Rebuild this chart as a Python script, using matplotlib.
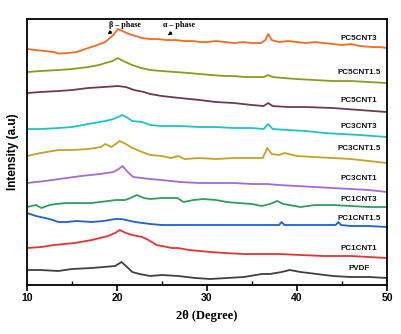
import matplotlib
matplotlib.use("Agg")
import matplotlib.pyplot as plt
from matplotlib.ticker import MultipleLocator

# ---- data (2theta in degrees, stacked intensity in a.u.) ----
labels = ["PC5CNT3", "PC5CNT1.5", "PC5CNT1", "PC3CNT3", "PC3CNT1.5",
          "PC3CNT1", "PC1CNT3", "PC1CNT1.5", "PC1CNT1", "PVDF"]
colors = ["#F26B21", "#8C9A1E", "#6E3B4E", "#1CC4C4", "#C9A021",
          "#A46BD8", "#2E9E5E", "#1F5FCF", "#E53333", "#404040"]

pc5cnt3_x = [10, 11, 12, 13, 13.5, 14.5, 15.5, 16.8, 17.5, 18.7, 19.2, 19.6, 20.1, 20.6, 21.1, 21.7, 22.8, 23.7,
             24.5, 25.5, 26.5, 27.5, 28.5, 29.2, 30, 31, 32, 33, 34, 35, 36, 36.5, 36.8, 37.2, 38, 39, 40, 41,
             42, 43, 44, 45, 46, 47, 48.4, 49.2, 50]
pc5cnt3_y = [251, 250, 249, 248, 246.5, 247, 248, 252, 254, 258, 262, 265, 271, 269, 267, 265, 262, 261,
             261, 260, 260, 259, 259, 258, 258, 259, 258, 257, 258, 257, 257, 260, 266, 260, 258, 259, 258, 257,
             258, 257, 256, 255, 256, 254, 253, 253, 252]

pc5cnt15_x = [10, 11.5, 13.5, 15, 16.8, 18, 18.7, 19.5, 20.1, 20.7, 21.7, 22.7, 23.7, 25, 26.5, 28, 29.2, 30.5,
              32, 33, 34.2, 35.5, 36.3, 36.8, 37.3, 38.5, 40, 42, 44, 46, 48, 50]
pc5cnt15_y = [228, 229, 230, 231, 233, 235, 237, 239, 242, 239, 235, 232, 230, 229, 228, 227, 226, 225,
              224, 224, 223, 223, 223, 225, 223, 222, 221, 220, 219, 219, 218, 217]

pc5cnt1_x = [10, 11.5, 13.5, 15, 16.8, 18.5, 20.1, 21, 21.9, 23, 23.7, 25, 27, 29.2, 31, 33, 35, 36.3, 36.8,
             37.3, 39, 41, 44, 47, 50]
pc5cnt1_y = [207, 208, 209, 210, 212, 213, 214, 213, 210, 208, 206, 204, 202, 200, 198, 197, 195, 194, 197,
             194, 193, 193, 192, 190, 188]

pc3cnt3_x = [10, 11.5, 13.5, 15, 16.8, 18.7, 19.6, 20.6, 21.2, 21.7, 22.8, 23.7, 25, 27, 29.2, 31, 33, 35,
             36.3, 36.8, 37.3, 39, 41, 43, 45, 47, 50]
pc3cnt3_y = [171, 171, 172, 173, 176, 179, 181, 185, 182, 179, 178, 175, 174, 174, 173, 173, 172, 172,
             171, 176, 171, 170, 169, 167, 166, 165, 163]

pc3cnt15_x = [10, 11.5, 13.5, 15, 16.8, 18.2, 18.7, 19.4, 20.3, 21, 21.7, 22.8, 23.7, 25, 26, 26.8, 27.5,
              29.2, 31, 33, 35, 36.2, 36.7, 37.2, 38, 38.6, 40, 42, 44, 46, 48, 50]
pc3cnt15_y = [144, 147, 150, 150, 151, 153, 156, 153, 159, 156, 152, 148, 145, 144, 142, 144, 141,
              142, 141, 142, 142, 142, 152, 146, 145, 147, 144, 143, 142, 141, 139, 137]

pc3cnt1_x = [10, 12, 14.4, 16, 18.1, 19.6, 20.2, 20.6, 21.2, 21.8, 23.7, 25, 27, 29.2, 31, 33, 35, 36.7,
             38, 40, 42, 44, 46, 48, 50]
pc3cnt1_y = [117, 119, 122, 124, 126, 128, 131, 134, 128, 123, 121, 120, 118, 117, 117, 117, 116, 116,
             115, 114, 113, 112, 111, 110, 108]

pc1cnt3_x = [10, 11, 11.6, 12.5, 13.2, 14.4, 15.5, 17.2, 18.1, 19.9, 20.9, 21.5, 22.2, 23, 23.7, 25, 26.7,
             27.4, 28.5, 29.6, 31, 32.2, 33.5, 35, 36.1, 37, 37.8, 38.5, 40.4, 42, 44, 46, 48, 50]
pc1cnt3_y = [93, 95, 92, 95, 96, 97, 97, 97, 98, 100, 100, 102, 105, 102, 101, 102, 102,
             98, 100, 101, 100, 98, 97, 96, 94, 96, 99, 96, 93, 95, 95, 94, 93, 93]

pc1cnt15_x = [10, 11, 12.5, 13.5, 14.4, 15.5, 17.2, 18.5, 19.8, 20.5, 22, 23.7, 25, 27, 29, 31, 33, 35, 37,
              38, 38.3, 38.6, 40, 42, 44.3, 44.6, 44.9, 46, 48, 50]
pc1cnt15_y = [87, 84, 81, 78, 78, 79, 78, 79, 81, 81, 78, 76, 75, 75, 75, 75, 75, 75, 75,
              75, 78, 75, 75, 75, 75, 78, 75, 74, 74, 73]

pc1cnt1_x = [10, 11.6, 13, 15.3, 17.2, 19, 19.8, 20.3, 21, 21.7, 22.8, 23.5, 24.4, 25, 26.1, 26.8, 28, 30.4,
             32, 34.1, 36.9, 38, 40.4, 43, 46, 48, 50]
pc1cnt1_y = [52, 53, 55, 57, 60, 64, 67, 70, 67, 65, 63, 60, 55, 54, 52, 52, 50, 48,
             47, 46, 46, 46, 45, 44, 44, 43, 42]

pvdf_x = [10, 11.5, 13.5, 15, 17.2, 18.5, 19.8, 20.5, 21, 21.7, 22.5, 23.7, 25, 26.8, 28.7, 30.4, 32.2, 34.1,
          36.1, 37, 38.3, 39.2, 40.4, 42.2, 44, 45.9, 48, 50]
pvdf_y = [30, 30, 29, 31, 32, 33, 34, 38, 34, 28, 26, 24, 25, 24, 22, 21, 22, 23,
          26, 26, 28, 30, 28, 26, 24, 23, 23, 22]

series_x = [pc5cnt3_x, pc5cnt15_x, pc5cnt1_x, pc3cnt3_x, pc3cnt15_x,
            pc3cnt1_x, pc1cnt3_x, pc1cnt15_x, pc1cnt1_x, pvdf_x]
series_y = [pc5cnt3_y, pc5cnt15_y, pc5cnt1_y, pc3cnt3_y, pc3cnt15_y,
            pc3cnt1_y, pc1cnt3_y, pc1cnt15_y, pc1cnt1_y, pvdf_y]
label_y = [262, 228, 200, 174, 152, 122, 101, 82, 52, 32]

x_ticks = [10, 20, 30, 40, 50]

# ---- figure ----
fig = plt.figure(figsize=(4.01, 3.34), dpi=100)
ax = fig.add_axes([0.0673, 0.1467, 0.8977, 0.7963])

for xs, ys, c in zip(series_x, series_y, colors):
    ax.plot(xs, ys, color=c, lw=1.3)

for lab, ly in zip(labels, label_y):
    ax.text(46.9, ly, lab, ha="center", va="center", fontsize=5.8,
            fontweight="bold", family="Liberation Sans", color="#111111")

ax.set_xlim(10, 50)
ax.set_ylim(15, 281)
ax.set_xticks(x_ticks)
ax.set_xticklabels([str(t) for t in x_ticks], fontsize=7.5, fontweight="bold",
                   family="Liberation Sans")
ax.xaxis.set_minor_locator(MultipleLocator(5))
ax.tick_params(axis="x", which="major", direction="out", length=4, width=1.2, pad=2)
ax.tick_params(axis="x", which="minor", direction="in", length=3, width=1.0)
ax.set_yticks([])
for s in ax.spines.values():
    s.set_linewidth(1.3)

ax.set_xlabel("2θ (Degree)", fontsize=9, fontweight="bold", family="Liberation Serif", labelpad=5)
ax.set_ylabel("Intensity (a.u)", fontsize=8.5, fontweight="bold", family="Liberation Sans", labelpad=6)

# phase annotations
ax.text(20.9, 275, "β – phase", ha="center", va="center", fontsize=5.8,
        fontweight="bold", family="Liberation Serif")
ax.annotate("", xy=(18.7, 264), xytext=(19.6, 270),
            arrowprops=dict(arrowstyle="-|>", color="black", lw=0.8, mutation_scale=5))
ax.text(26.9, 275, "α – phase", ha="center", va="center", fontsize=5.8,
        fontweight="bold", family="Liberation Serif")
ax.annotate("", xy=(25.4, 263), xytext=(26.3, 269),
            arrowprops=dict(arrowstyle="-|>", color="black", lw=0.8, mutation_scale=5))

fig.savefig("out.png", dpi=100)
